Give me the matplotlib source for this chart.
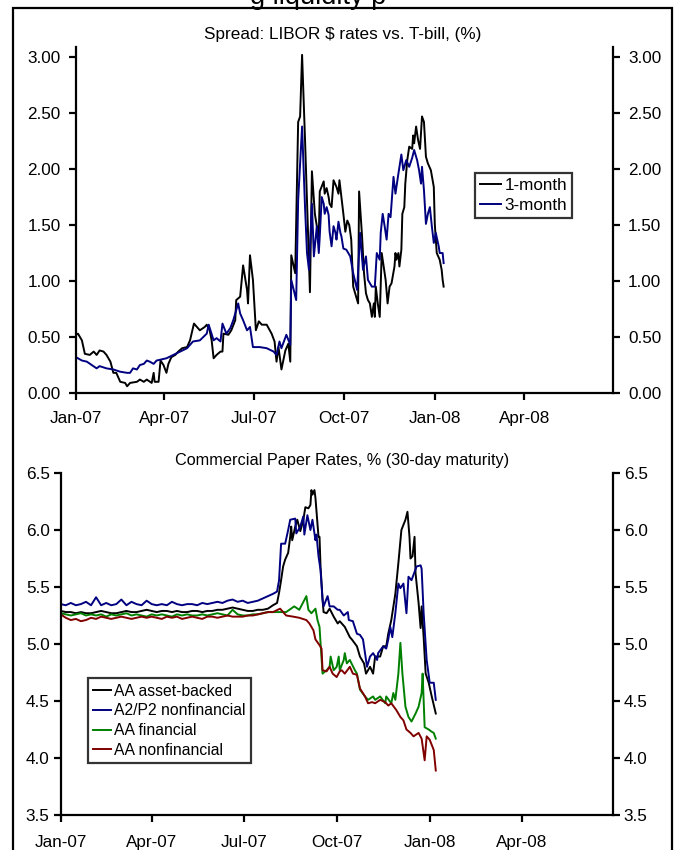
import matplotlib
matplotlib.use("Agg")
import matplotlib.pyplot as plt
import matplotlib.dates as mdates
from matplotlib.patches import Rectangle
from matplotlib.ticker import FormatStrFormatter
import pandas as pd

plt.rcParams['font.family'] = ['Liberation Sans', 'DejaVu Sans']

START = pd.Timestamp('2007-01-01')

# ---------------- Top panel: LIBOR - T-bill spreads (%) ----------------
# day = days since 2007-01-01
onem_day = [0, 2, 6, 9, 14, 18, 21, 24, 28, 31, 35, 38, 41, 45, 50, 52, 55, 62, 65, 69,
            72, 77, 79, 80, 84, 86, 89, 92, 94, 97, 101, 104, 108, 113, 116, 120, 123, 126, 131, 133,
            136, 138, 140, 143, 147, 149, 150, 155, 158, 162, 163, 167, 170, 174, 175, 177, 180, 183, 186, 189,
            194, 199, 202, 204, 206, 209, 213, 216, 218, 219, 223, 226, 228, 230, 233, 235, 238, 240, 243, 245,
            247, 248, 252, 253, 255, 257, 258, 260, 262, 265, 267, 268, 270, 272, 274, 276, 278, 280, 282, 284,
            287, 288, 291, 293, 295, 297, 299, 301, 303, 304, 305, 307, 309, 311, 315, 317, 319, 321, 324, 325,
            326, 328, 329, 331, 332, 334, 335, 337, 339, 342, 343, 344, 346, 348, 350, 352, 354, 356, 358, 361,
            364, 365, 367, 370, 372, 373, 374]
onem_val = [0.52, 0.53, 0.47, 0.35, 0.34, 0.37, 0.34, 0.38, 0.37, 0.34, 0.28, 0.18, 0.18, 0.10, 0.09, 0.06, 0.09, 0.10, 0.12, 0.10,
            0.12, 0.09, 0.18, 0.10, 0.10, 0.29, 0.25, 0.18, 0.26, 0.32, 0.34, 0.37, 0.40, 0.41, 0.47, 0.62, 0.59, 0.56, 0.59, 0.61,
            0.56, 0.47, 0.31, 0.34, 0.37, 0.37, 0.53, 0.52, 0.56, 0.65, 0.83, 0.86, 1.14, 0.92, 0.80, 1.23, 1.01, 0.56, 0.64, 0.61,
            0.61, 0.53, 0.46, 0.28, 0.41, 0.21, 0.38, 0.44, 0.28, 1.23, 1.07, 2.42, 2.47, 3.02, 2.26, 1.72, 0.90, 1.98, 1.60, 1.49,
            1.40, 1.80, 1.89, 1.78, 1.83, 1.75, 1.69, 1.66, 1.90, 1.84, 1.78, 1.90, 1.75, 1.60, 1.44, 1.54, 1.50, 1.37, 0.95, 0.89,
            0.80, 1.80, 1.40, 1.07, 0.89, 0.83, 0.80, 0.68, 0.80, 0.68, 0.95, 0.80, 0.68, 1.25, 1.01, 0.80, 0.95, 0.98, 1.13, 1.25,
            1.19, 1.25, 1.13, 1.28, 1.60, 1.66, 1.87, 2.08, 2.20, 2.18, 2.30, 2.23, 2.38, 2.26, 2.18, 2.47, 2.42, 2.11, 2.05, 1.99,
            1.84, 1.51, 1.25, 1.19, 1.10, 1.01, 0.95]

threem_day = [0, 6, 11, 16, 21, 24, 31, 38, 45, 52, 55, 58, 62, 65, 69, 72, 75, 79, 82, 92,
              99, 106, 113, 119, 126, 133, 135, 140, 143, 147, 149, 153, 157, 160, 165, 167, 170, 174, 177, 180,
              187, 194, 201, 204, 207, 209, 214, 218, 219, 224, 226, 230, 233, 235, 237, 240, 242, 245, 247, 248,
              250, 252, 253, 255, 257, 258, 260, 262, 264, 265, 267, 269, 270, 272, 275, 279, 282, 286, 289, 292,
              295, 297, 301, 304, 306, 309, 310, 312, 314, 316, 318, 320, 323, 325, 328, 331, 333, 336, 339, 342,
              344, 347, 349, 351, 352, 354, 356, 358, 360, 362, 364, 366, 369, 370, 373, 374]
threem_val = [0.32, 0.29, 0.28, 0.25, 0.22, 0.24, 0.22, 0.21, 0.19, 0.18, 0.18, 0.22, 0.21, 0.25, 0.26, 0.29, 0.28, 0.26, 0.29, 0.31,
              0.34, 0.37, 0.40, 0.46, 0.47, 0.53, 0.61, 0.47, 0.49, 0.46, 0.62, 0.53, 0.58, 0.65, 0.80, 0.71, 0.65, 0.56, 0.59, 0.41,
              0.41, 0.40, 0.37, 0.34, 0.46, 0.40, 0.52, 0.43, 1.01, 0.83, 1.72, 2.38, 1.66, 1.25, 1.10, 1.69, 1.22, 1.49, 1.25, 1.40,
              1.75, 1.69, 1.60, 1.66, 1.59, 1.44, 1.31, 1.49, 1.43, 1.37, 1.53, 1.43, 1.40, 1.29, 1.28, 1.22, 1.07, 0.92, 1.43, 1.10,
              1.22, 1.01, 0.95, 0.95, 1.25, 1.19, 1.43, 1.60, 1.49, 1.37, 1.60, 1.57, 1.93, 1.78, 1.96, 2.13, 1.99, 2.08, 2.02, 2.10,
              2.17, 2.08, 1.99, 1.87, 2.02, 1.81, 1.51, 1.60, 1.66, 1.49, 1.34, 1.43, 1.31, 1.25, 1.25, 1.16]

# ---------------- Bottom panel: commercial paper rates (%) ----------------
abcp_day = [0, 5, 10, 15, 20, 25, 30, 35, 40, 45, 50, 55, 60, 65, 70, 75, 80, 85, 90, 95,
            100, 105, 110, 115, 120, 125, 130, 135, 140, 145, 150, 155, 160, 165, 170, 175, 180, 185, 190, 195,
            200, 205, 210, 214, 216, 218, 220, 222, 225, 227, 228, 229, 232, 234, 237, 240, 242, 245, 247, 248,
            249, 251, 252, 255, 256, 257, 259, 260, 263, 266, 270, 274, 276, 281, 286, 288, 293, 296, 300, 302,
            306, 309, 311, 316, 319, 322, 324, 327, 331, 334, 337, 341, 343, 345, 346, 348, 350, 351, 354, 356,
            357, 359, 361, 364, 367, 371]
abcp_val = [5.29, 5.28, 5.28, 5.27, 5.28, 5.27, 5.27, 5.28, 5.29, 5.28, 5.27, 5.27, 5.28, 5.29, 5.28, 5.28, 5.29, 5.30, 5.29, 5.28,
            5.29, 5.29, 5.28, 5.29, 5.28, 5.28, 5.29, 5.29, 5.28, 5.29, 5.29, 5.30, 5.30, 5.31, 5.32, 5.31, 5.30, 5.29, 5.29, 5.30,
            5.30, 5.31, 5.34, 5.36, 5.45, 5.56, 5.68, 5.74, 5.80, 5.94, 6.03, 5.91, 6.03, 6.09, 5.99, 6.09, 6.20, 6.19, 6.22, 6.35,
            6.31, 6.35, 6.28, 5.94, 5.94, 5.68, 5.39, 5.28, 5.27, 5.31, 5.24, 5.18, 5.20, 5.15, 5.06, 5.04, 4.98, 4.89, 4.83, 4.74,
            4.80, 4.74, 4.89, 4.89, 4.98, 4.98, 5.09, 5.21, 5.44, 5.71, 6.00, 6.09, 6.16, 5.94, 5.75, 5.77, 5.94, 5.62, 5.36, 5.14,
            5.33, 5.06, 4.74, 4.66, 4.54, 4.39]

a2p2_day = [0, 5, 10, 15, 20, 25, 30, 35, 40, 45, 50, 55, 60, 65, 70, 75, 80, 85, 90, 95,
            100, 105, 110, 115, 120, 125, 130, 135, 140, 145, 150, 155, 160, 165, 170, 175, 180, 185, 190, 195,
            200, 205, 210, 214, 216, 218, 222, 225, 227, 232, 233, 237, 240, 241, 244, 247, 249, 252, 253, 255,
            257, 259, 260, 264, 266, 270, 274, 276, 280, 284, 285, 289, 293, 296, 299, 301, 303, 306, 309, 313,
            314, 319, 322, 324, 326, 328, 331, 334, 336, 339, 342, 344, 347, 352, 356, 357, 359, 362, 365, 369,
            371]
a2p2_val = [5.35, 5.34, 5.36, 5.34, 5.35, 5.37, 5.34, 5.41, 5.34, 5.36, 5.34, 5.35, 5.39, 5.34, 5.37, 5.35, 5.34, 5.38, 5.35, 5.34,
            5.35, 5.34, 5.37, 5.35, 5.34, 5.35, 5.35, 5.34, 5.36, 5.35, 5.36, 5.37, 5.36, 5.38, 5.39, 5.37, 5.38, 5.36, 5.37, 5.38,
            5.40, 5.42, 5.44, 5.46, 5.56, 5.88, 5.88, 6.00, 6.09, 6.10, 5.97, 6.03, 6.12, 5.96, 6.13, 6.00, 6.09, 5.91, 5.96, 5.77,
            5.65, 5.39, 5.33, 5.42, 5.33, 5.33, 5.30, 5.30, 5.25, 5.28, 5.21, 5.20, 5.09, 5.08, 5.04, 4.92, 4.80, 4.89, 4.92, 4.86,
            4.92, 4.98, 4.96, 5.04, 5.15, 5.06, 5.27, 5.53, 5.49, 5.53, 5.27, 5.59, 5.56, 5.68, 5.69, 5.66, 5.27, 4.86, 4.66, 4.66,
            4.51]

fin_day = [0, 5, 10, 15, 20, 25, 30, 35, 40, 45, 50, 55, 60, 65, 70, 75, 80, 85, 90, 95,
           100, 105, 110, 115, 120, 125, 130, 135, 140, 145, 150, 155, 160, 165, 170, 175, 180, 185, 190, 195,
           200, 205, 210, 223, 231, 236, 243, 245, 248, 252, 254, 256, 259, 263, 266, 267, 270, 273, 275, 276,
           280, 281, 283, 286, 291, 293, 296, 301, 304, 309, 311, 316, 321, 322, 327, 329, 331, 334, 336, 338,
           341, 344, 347, 351, 354, 357, 358, 360, 364, 367, 369, 371]
fin_val = [5.27, 5.26, 5.25, 5.26, 5.27, 5.25, 5.26, 5.25, 5.26, 5.24, 5.26, 5.25, 5.26, 5.27, 5.25, 5.26, 5.25, 5.24, 5.26, 5.25,
           5.26, 5.25, 5.24, 5.26, 5.25, 5.26, 5.25, 5.25, 5.26, 5.25, 5.26, 5.27, 5.26, 5.25, 5.30, 5.26, 5.25, 5.25, 5.26, 5.26,
           5.27, 5.28, 5.28, 5.28, 5.33, 5.30, 5.42, 5.30, 5.27, 5.31, 5.21, 5.15, 4.74, 4.77, 4.80, 4.89, 4.77, 4.80, 4.89, 4.77,
           4.86, 4.92, 4.83, 4.86, 4.77, 4.74, 4.60, 4.54, 4.51, 4.54, 4.51, 4.54, 4.48, 4.54, 4.48, 4.57, 4.51, 4.74, 5.01, 4.74,
           4.45, 4.36, 4.32, 4.39, 4.45, 4.57, 4.74, 4.27, 4.25, 4.23, 4.22, 4.17]

nonfin_day = [0, 5, 10, 15, 20, 25, 30, 35, 40, 45, 50, 55, 60, 65, 70, 75, 80, 85, 90, 95,
              100, 105, 110, 115, 120, 125, 130, 135, 140, 145, 150, 155, 160, 165, 170, 175, 180, 185, 190, 195,
              200, 205, 210, 217, 223, 230, 236, 243, 246, 250, 252, 256, 258, 259, 263, 266, 269, 273, 276, 278,
              281, 286, 289, 293, 296, 301, 304, 308, 311, 316, 321, 324, 327, 332, 336, 339, 342, 346, 349, 354,
              357, 360, 362, 365, 369, 371]
nonfin_val = [5.26, 5.23, 5.21, 5.22, 5.20, 5.21, 5.23, 5.22, 5.24, 5.23, 5.22, 5.23, 5.24, 5.23, 5.22, 5.23, 5.24, 5.23, 5.24, 5.23,
              5.22, 5.24, 5.23, 5.24, 5.22, 5.23, 5.24, 5.23, 5.22, 5.24, 5.24, 5.23, 5.24, 5.25, 5.24, 5.24, 5.24, 5.25, 5.25, 5.26,
              5.27, 5.28, 5.28, 5.31, 5.25, 5.24, 5.23, 5.21, 5.18, 5.12, 5.04, 4.99, 4.96, 4.77, 4.76, 4.80, 4.74, 4.71, 4.76, 4.77,
              4.74, 4.80, 4.74, 4.73, 4.61, 4.54, 4.48, 4.49, 4.48, 4.51, 4.49, 4.46, 4.48, 4.42, 4.36, 4.33, 4.25, 4.22, 4.19, 4.22,
              4.17, 3.98, 4.19, 4.16, 4.07, 3.89]

top_labels = ['1-month', '3-month']
bottom_labels = ['AA asset-backed', 'A2/P2 nonfinancial', 'AA financial', 'AA nonfinancial']
top_title = 'Spread: LIBOR \\$ rates vs. T-bill, (%)'
bottom_title = 'Commercial Paper Rates, % (30-day maturity)'
page_title_fragment = 'g liquidity p'


def to_dates(days):
    return START + pd.to_timedelta(days, unit='D')


W, H = 676, 850
fig = plt.figure(figsize=(W / 100, H / 100), dpi=100)

FS = 12.3
FS_LEG2 = 11.3
FS_T2 = 11.7
LW = 1.4
SP = 1.6

ax1 = fig.add_axes([76 / W, 1 - 393 / H, (612.7 - 76) / W, (393 - 47) / H])
ax2 = fig.add_axes([60.7 / W, 1 - 815 / H, (612.7 - 60.7) / W, (815 - 473) / H])

ax1.plot(to_dates(onem_day), onem_val, color='black', lw=LW, label=top_labels[0])
ax1.plot(to_dates(threem_day), threem_val, color='#000080', lw=LW, label=top_labels[1])

ax2.plot(to_dates(abcp_day), abcp_val, color='black', lw=LW, label=bottom_labels[0])
ax2.plot(to_dates(a2p2_day), a2p2_val, color='#000080', lw=LW, label=bottom_labels[1])
ax2.plot(to_dates(fin_day), fin_val, color='#008000', lw=LW, label=bottom_labels[2])
ax2.plot(to_dates(nonfin_day), nonfin_val, color='#800000', lw=LW, label=bottom_labels[3])

for ax in (ax1, ax2):
    ax.set_xlim(pd.Timestamp('2007-01-01'), pd.Timestamp('2008-06-30'))
    ax.xaxis.set_major_locator(mdates.MonthLocator(bymonth=[1, 4, 7, 10]))
    ax.xaxis.set_major_formatter(mdates.DateFormatter('%b-%y'))
    ax.spines['top'].set_visible(False)
    for s in ['left', 'right', 'bottom']:
        ax.spines[s].set_linewidth(SP)
    ax.tick_params(axis='both', which='major', direction='out', length=5, width=SP,
                   labelsize=FS, colors='black')
    ax.tick_params(axis='y', right=True, labelright=True)

ax1.set_ylim(0, 3.09)
ax1.set_yticks([0, 0.5, 1.0, 1.5, 2.0, 2.5, 3.0])
ax1.yaxis.set_major_formatter(FormatStrFormatter('%.2f'))
ax1.tick_params(axis='y', pad=6)
ax1.tick_params(axis='x', pad=8)

ax2.set_ylim(3.5, 6.5)
ax2.set_yticks([3.5, 4.0, 4.5, 5.0, 5.5, 6.0, 6.5])
ax2.yaxis.set_major_formatter(FormatStrFormatter('%.1f'))
ax2.tick_params(axis='y', pad=3)
ax2.tick_params(axis='x', pad=9.5)

leg1 = ax1.legend(loc='upper left', bbox_to_anchor=(0.744, 0.636), borderaxespad=0,
                  fontsize=FS, frameon=True, fancybox=False, edgecolor='black',
                  handlelength=1.2, handletextpad=0.2, labelspacing=0.3, borderpad=0.3)
leg1.get_frame().set_linewidth(SP)

leg2 = ax2.legend(loc='upper left', bbox_to_anchor=(0.049, 0.40), borderaxespad=0,
                  fontsize=FS_LEG2, frameon=True, fancybox=False, edgecolor='black',
                  handlelength=1.1, handletextpad=0.2, labelspacing=0.3, borderpad=0.35)
leg2.get_frame().set_linewidth(SP)

fig.text(343 / W, 1 - 35 / H, top_title, ha='center', va='center', fontsize=FS)
fig.text(342 / W, 1 - 461 / H, bottom_title, ha='center', va='center', fontsize=FS_T2)
fig.text(318 / W, 1 - 4 / H, page_title_fragment, ha='center', va='baseline', fontsize=19.5)

fig.patches.append(Rectangle((13 / W, -0.02), (672 - 13) / W, 1 - 8 / H + 0.02,
                             transform=fig.transFigure, fill=False, lw=SP,
                             edgecolor='black', clip_on=False))

fig.savefig('out.png', dpi=100)
